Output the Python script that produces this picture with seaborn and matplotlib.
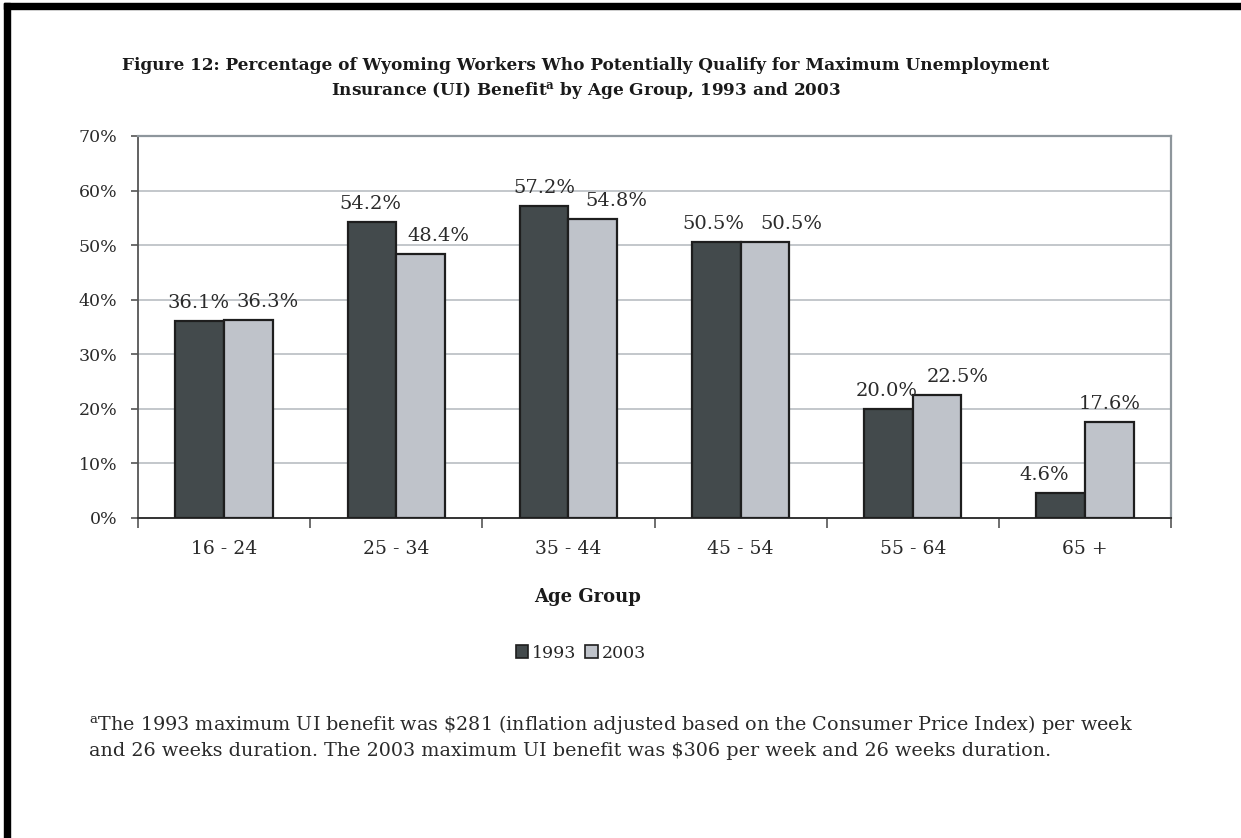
import matplotlib
matplotlib.use("Agg")
import matplotlib.pyplot as plt
from matplotlib.patches import Rectangle
import seaborn as sns
import pandas as pd

age_groups = ["16 - 24", "25 - 34", "35 - 44", "45 - 54", "55 - 64", "65 +"]
years = ["1993", "2003"]
pct_1993 = [36.1, 54.2, 57.2, 50.5, 20.0, 4.6]
pct_2003 = [36.3, 48.4, 54.8, 50.5, 22.5, 17.6]
y_ticks = [0, 10, 20, 30, 40, 50, 60, 70]

df = pd.DataFrame({
    "Age Group": age_groups * 2,
    "Year": [years[0]] * len(age_groups) + [years[1]] * len(age_groups),
    "Percent": pct_1993 + pct_2003,
})

sns.set_theme(style="white")
plt.rcParams["font.family"] = ["DejaVu Serif"]
plt.rcParams["mathtext.fontset"] = "dejavuserif"

W, H = 1241, 838
fig = plt.figure(figsize=(W / 100, H / 100), dpi=100)
fig.patch.set_facecolor("white")
ax = fig.add_axes([138 / W, 1 - 518 / H, (1171 - 138) / W, (518 - 136) / H])

palette = {"1993": "#434a4c", "2003": "#bfc3ca"}
sns.barplot(data=df, x="Age Group", y="Percent", hue="Year", order=age_groups,
            hue_order=years, palette=palette, width=0.565, gap=0,
            edgecolor="#1e1e1e", linewidth=1.6, saturation=1, ax=ax,
            legend=False, zorder=3)

ax.set_ylim(0, 70)
ax.set_xlim(-0.5, len(age_groups) - 0.5)
ax.set_yticks(y_ticks)
ax.set_yticklabels([f"{t}%" for t in y_ticks])

# gridlines and frame
for t in y_ticks[1:-1]:
    ax.axhline(t, color="#b9bdc2", lw=1.2, zorder=1)
for side in ["top", "right"]:
    ax.spines[side].set_visible(True)
    ax.spines[side].set_color("#8e969c")
    ax.spines[side].set_linewidth(1.6)
ax.spines["left"].set_color("#555555")
ax.spines["left"].set_linewidth(1.3)
ax.spines["bottom"].set_color("#333333")
ax.spines["bottom"].set_linewidth(1.4)

# category separators as major ticks, names as minor ticks
ax.set_xticks([i - 0.5 for i in range(len(age_groups) + 1)])
ax.set_xticklabels([])
ax.set_xticks(range(len(age_groups)), minor=True)
ax.set_xticklabels(age_groups, minor=True)
ax.tick_params(axis="x", which="major", direction="out", length=7, width=1.2,
               color="#555555", bottom=True)
ax.tick_params(axis="x", which="minor", length=0, pad=16, labelsize=13.5,
               labelcolor="#2a2a2a")
ax.tick_params(axis="y", direction="out", length=5, width=1.2, color="#555555",
               left=True, pad=10, labelsize=12.5, labelcolor="#2a2a2a")

ax.set_xlabel("Age Group", fontsize=13, fontweight="bold", color="#1a1a1a")
ax.xaxis.set_label_coords((588 - 138) / (1171 - 138), -(597 - 518) / (518 - 136))
ax.xaxis.label.set_verticalalignment("center")
ax.set_ylabel("")

# value labels; the second series is nudged sideways where labels would collide
dx_1993 = [-1, -1, 0, -2, -1, -12]
dx_2003 = [14, 13, 17, 19, 15, 0]
for cont, dxs in zip(ax.containers, [dx_1993, dx_2003]):
    anns = ax.bar_label(cont, labels=[f"{v:.1f}%" for v in cont.datavalues],
                        padding=6.5, fontsize=14, color="#2a2a2a")
    for ann, dx in zip(anns, dxs):
        ann.xyann = (dx, 6.5)

# legend
handles = [Rectangle((0, 0), 1, 1, facecolor=palette[y], edgecolor="#1e1e1e",
                     lw=1.2) for y in years]
fig.legend(handles, years, loc="center", bbox_to_anchor=(581 / W, 1 - 653 / H),
           ncol=2, frameon=False, fontsize=12.5, handlelength=0.7,
           handleheight=0.7, handletextpad=0.25, columnspacing=0.5)

# title
fig.text(586 / W, 1 - 66 / H,
         "Figure 12: Percentage of Wyoming Workers Who Potentially Qualify for Maximum Unemployment",
         ha="center", va="center", fontsize=12.2, fontweight="bold", color="#1a1a1a")
fig.text(586 / W, 1 - 91 / H,
         r"Insurance (UI) Benefit$^{\mathbf{a}}$ by Age Group, 1993 and 2003",
         ha="center", va="center", fontsize=12.2, fontweight="bold", color="#1a1a1a")

# footnote
fig.text(89 / W, 1 - 724 / H,
         r"$^{\mathrm{a}}$The 1993 maximum UI benefit was \$281 (inflation adjusted based on the Consumer Price Index) per week",
         ha="left", va="center", fontsize=13.8, color="#2a2a2a")
fig.text(89 / W, 1 - 751 / H,
         r"and 26 weeks duration. The 2003 maximum UI benefit was \$306 per week and 26 weeks duration.",
         ha="left", va="center", fontsize=13.8, color="#2a2a2a")

# page border
fig.patches.append(Rectangle((4 / W, 1 - 9 / H), (W - 4) / W, 6 / H,
                             transform=fig.transFigure, color="black", zorder=10))
fig.patches.append(Rectangle((4 / W, 0), 6 / W, 1 - 3 / H,
                             transform=fig.transFigure, color="black", zorder=10))

fig.savefig("out.png", dpi=100, facecolor="white")
